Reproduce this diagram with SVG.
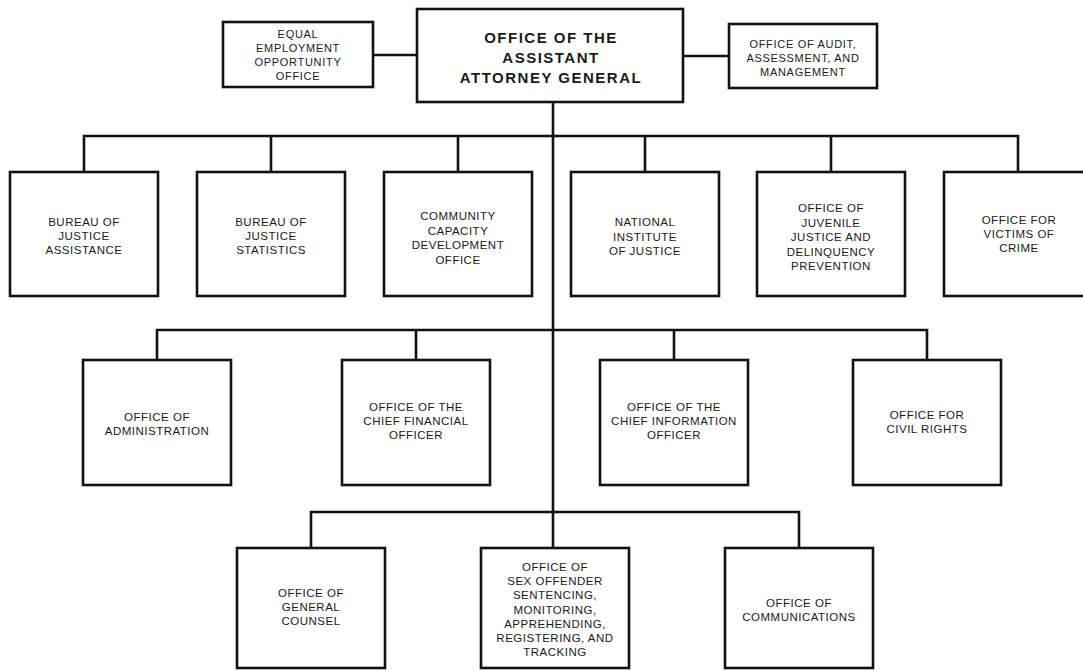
<svg xmlns="http://www.w3.org/2000/svg" width="1083" height="671" viewBox="0 0 1083 671">
<style>
.box{fill:#fff;stroke:#111;stroke-width:2.6}
.ln{fill:none;stroke:#111;stroke-width:2.6}
text{font-family:"Liberation Sans",Arial,Helvetica,sans-serif;fill:#1a1a1a;text-anchor:middle}
.t{font-size:11.5px;letter-spacing:0.5px}
.s{font-size:11px;letter-spacing:0.7px}
.h{font-size:15px;font-weight:bold;letter-spacing:1.5px}
</style>
<rect width="1083" height="671" fill="#fff"/>
<g id="connectors">
<path class="ln" d="M373 55H417M683 56H729"/>
<path class="ln" d="M553 102V548"/>
<path class="ln" d="M84 172V136H1018V172M271 136V172M458 136V172M645 136V172M831 136V172"/>
<path class="ln" d="M157 360V330H927V360M416 330V360M674 330V360"/>
<path class="ln" d="M311 548V512H799V548"/>
</g>
<g id="aag"><rect class="box" x="417" y="9" width="266" height="93"/>
<text class="h" x="551" y="43">OFFICE OF THE</text><text class="h" x="551" y="63">ASSISTANT</text><text class="h" x="551" y="83">ATTORNEY GENERAL</text></g>
<g id="eeo"><rect class="box" x="223" y="22" width="150" height="65"/>
<text class="s" x="298" y="38">EQUAL</text><text class="s" x="298" y="52">EMPLOYMENT</text><text class="s" x="298" y="66">OPPORTUNITY</text><text class="s" x="298" y="80">OFFICE</text></g>
<g id="audit"><rect class="box" x="729" y="24" width="148" height="64"/>
<text class="s" x="803" y="48">OFFICE OF AUDIT,</text><text class="s" x="803" y="62">ASSESSMENT, AND</text><text class="s" x="803" y="76">MANAGEMENT</text></g>
<g id="bja"><rect class="box" x="10" y="172" width="148" height="124"/>
<text class="t" x="84" y="226">BUREAU OF</text><text class="t" x="84" y="240">JUSTICE</text><text class="t" x="84" y="254">ASSISTANCE</text></g>
<g id="bjs"><rect class="box" x="197" y="172" width="148" height="124"/>
<text class="t" x="271" y="226">BUREAU OF</text><text class="t" x="271" y="240">JUSTICE</text><text class="t" x="271" y="254">STATISTICS</text></g>
<g id="ccdo"><rect class="box" x="384" y="172" width="148" height="124"/>
<text class="t" x="458" y="220">COMMUNITY</text><text class="t" x="458" y="234.5">CAPACITY</text><text class="t" x="458" y="249">DEVELOPMENT</text><text class="t" x="458" y="263.5">OFFICE</text></g>
<g id="nij"><rect class="box" x="571" y="172" width="148" height="124"/>
<text class="t" x="645" y="226">NATIONAL</text><text class="t" x="645" y="240.5">INSTITUTE</text><text class="t" x="645" y="255">OF JUSTICE</text></g>
<g id="ojjdp"><rect class="box" x="757" y="172" width="148" height="124"/>
<text class="t" x="831" y="212">OFFICE OF</text><text class="t" x="831" y="226.5">JUVENILE</text><text class="t" x="831" y="241">JUSTICE AND</text><text class="t" x="831" y="255.5">DELINQUENCY</text><text class="t" x="831" y="270">PREVENTION</text></g>
<g id="ovc"><rect class="box" x="944" y="172" width="148" height="124"/>
<text class="t" x="1019" y="224">OFFICE FOR</text><text class="t" x="1019" y="238">VICTIMS OF</text><text class="t" x="1019" y="252">CRIME</text></g>
<g id="admin"><rect class="box" x="83" y="360" width="148" height="125"/>
<text class="t" x="157" y="421">OFFICE OF</text><text class="t" x="157" y="435">ADMINISTRATION</text></g>
<g id="cfo"><rect class="box" x="342" y="360" width="148" height="125"/>
<text class="t" x="416" y="411">OFFICE OF THE</text><text class="t" x="416" y="425">CHIEF FINANCIAL</text><text class="t" x="416" y="439">OFFICER</text></g>
<g id="cio"><rect class="box" x="600" y="360" width="148" height="125"/>
<text class="t" x="674" y="411">OFFICE OF THE</text><text class="t" x="674" y="425">CHIEF INFORMATION</text><text class="t" x="674" y="439">OFFICER</text></g>
<g id="ocr"><rect class="box" x="853" y="360" width="148" height="125"/>
<text class="t" x="927" y="418.5">OFFICE FOR</text><text class="t" x="927" y="432.5">CIVIL RIGHTS</text></g>
<g id="ogc"><rect class="box" x="237" y="548" width="148" height="120"/>
<text class="t" x="311" y="597">OFFICE OF</text><text class="t" x="311" y="611">GENERAL</text><text class="t" x="311" y="625">COUNSEL</text></g>
<g id="smart"><rect class="box" x="481" y="548" width="148" height="120"/>
<text class="t" x="555" y="571">OFFICE OF</text><text class="t" x="555" y="585.2">SEX OFFENDER</text><text class="t" x="555" y="599.4">SENTENCING,</text><text class="t" x="555" y="613.6">MONITORING,</text><text class="t" x="555" y="627.8">APPREHENDING,</text><text class="t" x="555" y="642">REGISTERING, AND</text><text class="t" x="555" y="656">TRACKING</text></g>
<g id="comm"><rect class="box" x="725" y="548" width="148" height="120"/>
<text class="t" x="799" y="607">OFFICE OF</text><text class="t" x="799" y="621">COMMUNICATIONS</text></g>
</svg>
